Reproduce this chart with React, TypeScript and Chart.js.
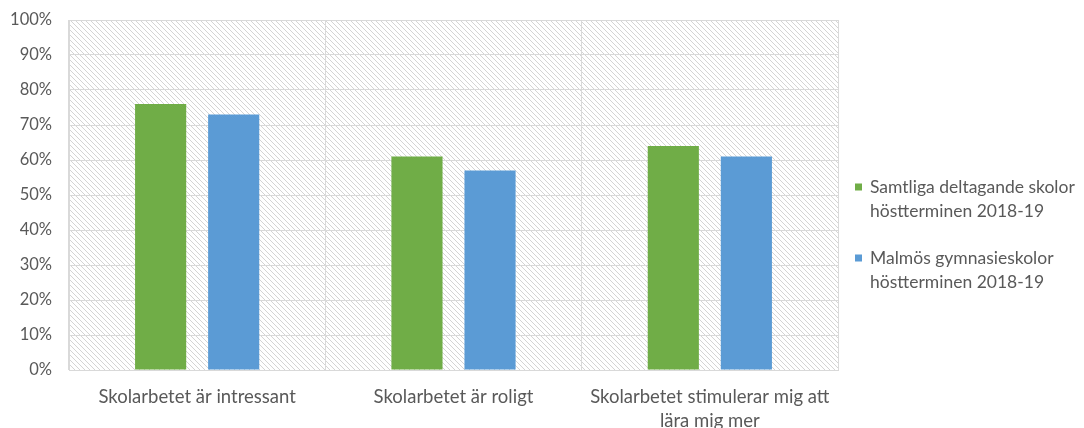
import React, { useEffect, useRef } from "react";
import { Chart, registerables } from "chart.js";

Chart.register(...registerables);

const categories: (string | string[])[] = [
  "Skolarbetet är intressant",
  "Skolarbetet är roligt",
  ["Skolarbetet stimulerar mig att", "lära mig mer"],
];
const seriesNames: string[][] = [
  ["Samtliga deltagande skolor", "höstterminen 2018-19"],
  ["Malmös gymnasieskolor", "höstterminen 2018-19"],
];
const samtliga: number[] = [76, 61, 64];
const malmo: number[] = [73, 57, 61];
const colors = ["#70AD47", "#5B9BD5"];
const FONT = "Lato, 'Open Sans', sans-serif";
const TEXT = "#595959";
const GRID = "#D9D9D9";

function makePattern(ctx: CanvasRenderingContext2D) {
  const c = document.createElement("canvas");
  c.width = 5;
  c.height = 5;
  const p = c.getContext("2d")!;
  p.fillStyle = "#ffffff";
  p.fillRect(0, 0, 5, 5);
  p.fillStyle = "#d4d4d4";
  for (let i = 0; i < 5; i++) p.fillRect(i, i, 1, 1);
  return ctx.createPattern(c, "repeat");
}

export default function App() {
  const ref = useRef<HTMLCanvasElement>(null);
  useEffect(() => {
    const canvas = ref.current!;
    const bgPlugin = {
      id: "hatch",
      beforeDraw(chart: any) {
        const { ctx, chartArea } = chart;
        const pat = makePattern(ctx);
        ctx.save();
        ctx.fillStyle = pat;
        ctx.fillRect(chartArea.left, chartArea.top, chartArea.right - chartArea.left, chartArea.bottom - chartArea.top);
        ctx.restore();
      },
    };
    const legendPlugin = {
      id: "customLegend",
      afterDraw(chart: any) {
        const { ctx } = chart;
        ctx.save();
        ctx.font = `17.5px ${FONT}`;
        ctx.textBaseline = "middle";
        ctx.textAlign = "left";
        const startY = [187, 258];
        seriesNames.forEach((lines, i) => {
          const y0 = startY[i];
          ctx.fillStyle = colors[i];
          ctx.fillRect(855, y0 - 3.5, 7, 7);
          ctx.fillStyle = TEXT;
          lines.forEach((ln, j) => ctx.fillText(ln, 870, y0 + j * 24));
        });
        ctx.restore();
      },
    };
    const chart = new Chart(canvas, {
      type: "bar",
      data: {
        labels: categories,
        datasets: [
          { label: seriesNames[0].join(" "), data: samtliga, backgroundColor: colors[0] },
          { label: seriesNames[1].join(" "), data: malmo, backgroundColor: colors[1] },
        ],
      },
      options: {
        animation: false,
        responsive: false,
        maintainAspectRatio: false,
        layout: { padding: { left: 0, right: 246, top: 20, bottom: 0 } },
        datasets: { bar: { categoryPercentage: 0.57, barPercentage: 0.7 } },
        plugins: { legend: { display: false }, tooltip: { enabled: false } },
        scales: {
          x: {
            grid: { color: GRID, lineWidth: 1, offset: true, drawTicks: false },
            border: { color: GRID },
            ticks: { color: TEXT, font: { family: FONT, size: 18.5, lineHeight: 1.3 }, padding: 15, maxRotation: 0, autoSkip: false },
            afterFit: (s: any) => { s.height = 58; },
          },
          y: {
            min: 0,
            max: 100,
            grid: { color: GRID, lineWidth: 1, drawTicks: false },
            border: { color: GRID },
            ticks: { stepSize: 10, color: TEXT, font: { family: FONT, size: 16.5 }, padding: 17, callback: (v: any) => v + "%" },
            afterFit: (s: any) => {
              s.width = 69;
              s.paddingTop = 10;
              s.paddingBottom = 10;
            },
          },
        },
      },
      plugins: [bgPlugin, legendPlugin],
    });
    return () => chart.destroy();
  }, []);
  return (
    <div style={{ position: "fixed", left: 0, top: 0, width: 1084, height: 428, background: "#fff" }}>
      <canvas ref={ref} width={1084} height={428} style={{ width: 1084, height: 428 }} />
    </div>
  );
}
